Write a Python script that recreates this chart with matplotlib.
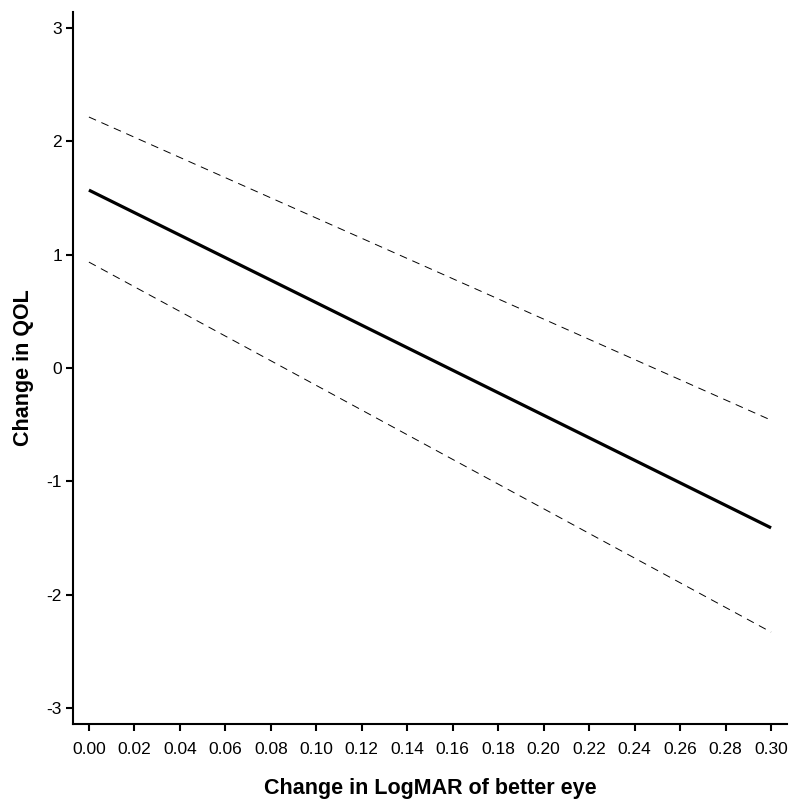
import numpy as np
import matplotlib.pyplot as plt

plt.rcParams['font.family'] = ['Liberation Sans', 'DejaVu Sans']
plt.rcParams['axes.unicode_minus'] = False

# 读图得到的端点值
x_vals = [0.00, 0.30]
fit = [1.57, -1.41]
upper = [2.215, -0.46]
lower = [0.935, -2.33]

xticks = np.round(np.arange(0, 0.301, 0.02), 2)
yticks = [-3, -2, -1, 0, 1, 2, 3]

fig = plt.figure(figsize=(8, 8.05), dpi=100)
ax = fig.add_axes([0.09125, 0.1006, 0.8925, 0.8844])

ax.plot(x_vals, fit, color='black', lw=2.3, solid_capstyle='butt')
ax.plot(x_vals, upper, color='black', lw=0.7, ls=(0, (8, 6)))
ax.plot(x_vals, lower, color='black', lw=0.7, ls=(0, (8, 6)))

ax.set_xlim(-0.007, 0.307)
ax.set_ylim(-3.141, 3.141)
ax.set_xticks(xticks)
ax.set_xticklabels([f'{t:.2f}' for t in xticks])
ax.set_yticks(yticks)

for s in ['top', 'right']:
    ax.spines[s].set_visible(False)
for s in ['left', 'bottom']:
    ax.spines[s].set_linewidth(1.5)

ax.tick_params(direction='out', length=5, width=1.5, labelsize=12.5)
ax.tick_params(axis='x', pad=8)
ax.tick_params(axis='y', pad=3)

ax.set_xlabel('Change in LogMAR of better eye', fontsize=15.5, fontweight='bold')
ax.set_ylabel('Change in QOL', fontsize=15.5, fontweight='bold')
ax.xaxis.set_label_coords(0.5, -0.076)
ax.yaxis.set_label_coords(-0.054, 0.5)

fig.savefig('out.png', dpi=100)
